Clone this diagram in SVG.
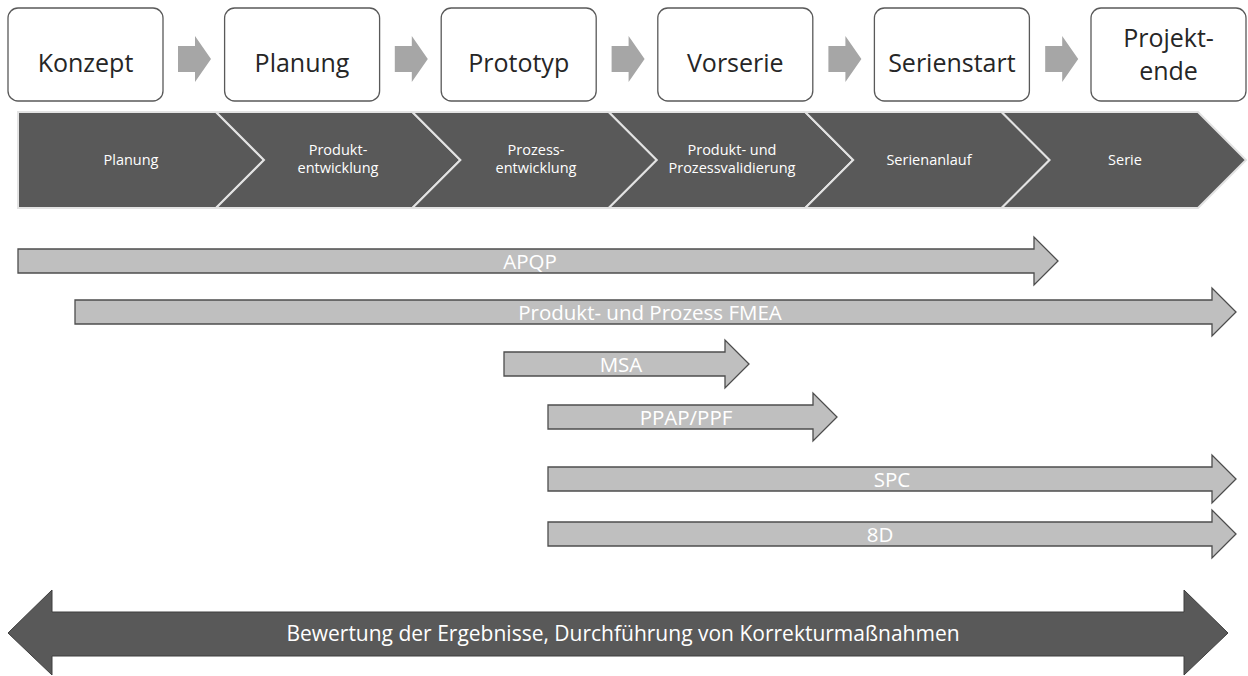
<svg xmlns="http://www.w3.org/2000/svg" width="1248" height="676" viewBox="0 0 1248 676">
<style>
.box{fill:#fff;stroke:#595959;stroke-width:1.3}
.bt{font-family:"Open Sans","Liberation Sans",sans-serif;font-size:25px;fill:#262626;text-anchor:middle}
.step{fill:#a6a6a6}
.chev{fill:#595959;stroke:#e3e3e3;stroke-width:2}
.ct{font-family:"Open Sans","Liberation Sans",sans-serif;font-size:14.5px;fill:#fff;text-anchor:middle}
.ga{fill:#bfbfbf;stroke:#4d4d4d;stroke-width:1.3}
.gt{font-family:"Open Sans","Liberation Sans",sans-serif;font-size:20.5px;fill:#fff;text-anchor:middle}
.da{fill:#595959;stroke:#3f3f3f;stroke-width:1}
.dt{font-family:"Open Sans","Liberation Sans",sans-serif;font-size:21px;fill:#fff;text-anchor:middle}
</style>
<g id="n-konzept"><rect class="box" x="8" y="8" width="155" height="93" rx="10"/><text class="bt" x="85.5" y="72">Konzept</text></g>
<g id="n-planung"><rect class="box" x="224.6" y="8" width="155" height="93" rx="10"/><text class="bt" x="302" y="72">Planung</text></g>
<g id="n-prototyp"><rect class="box" x="441.2" y="8" width="155" height="93" rx="10"/><text class="bt" x="518.7" y="72">Prototyp</text></g>
<g id="n-vorserie"><rect class="box" x="657.8" y="8" width="155" height="93" rx="10"/><text class="bt" x="735.3" y="72">Vorserie</text></g>
<g id="n-serienstart"><rect class="box" x="874.4" y="8" width="155" height="93" rx="10"/><text class="bt" x="951.9" y="72">Serienstart</text></g>
<g id="n-projektende"><rect class="box" x="1091" y="8" width="155" height="93" rx="10"/><text class="bt" x="1168.5" y="47">Projekt-</text><text class="bt" x="1168.5" y="80">ende</text></g>
<g id="connectors">
<polygon class="step" points="178,46 195,46 195,36 211,59 195,82 195,72 178,72"/>
<polygon class="step" points="394.8,46 411.8,46 411.8,36 427.8,59 411.8,82 411.8,72 394.8,72"/>
<polygon class="step" points="611.6,46 628.6,46 628.6,36 644.6,59 628.6,82 628.6,72 611.6,72"/>
<polygon class="step" points="828.4,46 845.4,46 845.4,36 861.4,59 845.4,82 845.4,72 828.4,72"/>
<polygon class="step" points="1045.2,46 1062.2,46 1062.2,36 1078.2,59 1062.2,82 1062.2,72 1045.2,72"/>
</g>
<g id="phases">
<g id="p1"><polygon class="chev" points="18,112 216,112 264,160 216,208 18,208"/><text class="ct" x="131" y="165">Planung</text></g>
<g id="p2"><polygon class="chev" points="216,112 412.4,112 460.4,160 412.4,208 216,208 264,160"/><text class="ct" x="338" y="155">Produkt-</text><text class="ct" x="338" y="173">entwicklung</text></g>
<g id="p3"><polygon class="chev" points="412.4,112 608.8,112 656.8,160 608.8,208 412.4,208 460.4,160"/><text class="ct" x="536" y="155">Prozess-</text><text class="ct" x="536" y="173">entwicklung</text></g>
<g id="p4"><polygon class="chev" points="608.8,112 805.2,112 853.2,160 805.2,208 608.8,208 656.8,160"/><text class="ct" x="732" y="155">Produkt- und</text><text class="ct" x="732" y="173">Prozessvalidierung</text></g>
<g id="p5"><polygon class="chev" points="805.2,112 1001.6,112 1049.6,160 1001.6,208 805.2,208 853.2,160"/><text class="ct" x="929" y="165">Serienanlauf</text></g>
<g id="p6"><polygon class="chev" points="1001.6,112 1198,112 1246,160 1198,208 1001.6,208 1049.6,160"/><text class="ct" x="1125" y="165">Serie</text></g>
</g>
<g id="a-apqp"><polygon class="ga" points="18,249 1034,249 1034,237 1058,261 1034,285 1034,273 18,273"/><text class="gt" x="530" y="269">APQP</text></g>
<g id="a-fmea"><polygon class="ga" points="75,300 1212,300 1212,288 1236,312 1212,336 1212,324 75,324"/><text class="gt" x="650" y="320">Produkt- und Prozess FMEA</text></g>
<g id="a-msa"><polygon class="ga" points="504,352 725,352 725,340 749,364 725,388 725,376 504,376"/><text class="gt" x="621" y="372">MSA</text></g>
<g id="a-ppap"><polygon class="ga" points="548,405 813,405 813,393 837,417 813,441 813,429 548,429"/><text class="gt" x="686" y="425">PPAP/PPF</text></g>
<g id="a-spc"><polygon class="ga" points="548,467 1212,467 1212,455 1236,479 1212,503 1212,491 548,491"/><text class="gt" x="892" y="487">SPC</text></g>
<g id="a-8d"><polygon class="ga" points="548,522 1212,522 1212,510 1236,534 1212,558 1212,546 548,546"/><text class="gt" x="880" y="542">8D</text></g>
<g id="a-bewertung"><polygon class="da" points="8,633 52,590 52,612 1184,612 1184,590 1228,633 1184,675 1184,656 52,656 52,675"/><text class="dt" x="623" y="641">Bewertung der Ergebnisse, Durchführung von Korrekturmaßnahmen</text></g>
</svg>
